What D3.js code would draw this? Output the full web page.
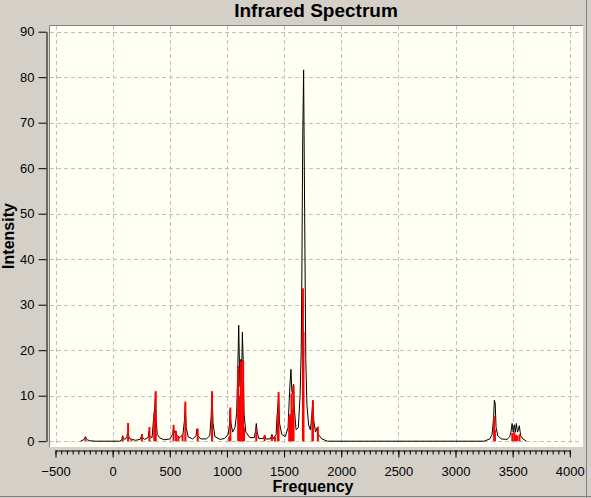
<!DOCTYPE html>
<html><head><meta charset="utf-8">
<script src="https://cdn.jsdelivr.net/npm/d3@7/dist/d3.min.js"></script>
<style>
html,body{margin:0;padding:0;background:#d4d0c8;}
svg{display:block;}
text{font-family:"Liberation Sans",Arial,sans-serif;}
</style></head>
<body>
<svg id="chart" width="591" height="498"></svg>
<script>
// ---- data ----
const title = "Infrared Spectrum";
const xLabel = "Frequency";
const yLabel = "Intensity";
const xTicks = [-500, 0, 500, 1000, 1500, 2000, 2500, 3000, 3500, 4000];
const yTicks = [0, 10, 20, 30, 40, 50, 60, 70, 80, 90];

// broadened spectrum (black line)
const curveFreq = [-281,-255,-242,-238,-232,-220,-200,-150,60,80,88,95,110,125,132,138,145,170,200,240,250,256,262,280,310,318,326,345,360,368,374,380,390,410,450,500,525,533,540,552,560,590,615,628,636,644,660,700,730,738,746,770,820,850,862,870,878,895,940,980,1010,1022,1028,1035,1050,1070,1085,1095,1103,1110,1115,1122,1128,1135,1142,1150,1165,1200,1240,1250,1257,1264,1280,1320,1330,1340,1380,1394,1405,1430,1440,1452,1460,1480,1510,1535,1545,1553,1560,1568,1575,1582,1590,1605,1625,1640,1650,1656,1663,1671,1680,1690,1700,1715,1730,1740,1752,1760,1775,1790,1800,1830,1880,3250,3300,3320,3333,3340,3347,3355,3370,3400,3450,3475,3485,3495,3505,3515,3523,3532,3542,3550,3558,3570,3590,3620];
const curveInt  = [0,0.3,0.8,1.0,0.6,0.3,0.1,0,0,0.3,1.2,0.6,0.4,1.0,2.2,1.5,0.6,0.4,0.2,0.4,1.0,1.5,0.8,0.4,0.8,2.2,1.0,0.8,5.5,7,10.6,5,1.5,0.8,0.3,0.5,1.5,2.9,1.8,2.3,1.3,0.8,1.5,4.5,7.9,3,1.0,0.5,1.2,2.7,1.2,0.5,0.5,1.2,5.5,10.6,4,1.0,0.4,0.6,1.5,3.5,6.9,4,2,3,6,16,25.5,16,12,18,13,24,18,6,2,0.8,0.8,2.2,3.9,2,0.6,0.6,1.3,0.5,0.5,1.5,0.5,1.5,5.8,10,4,1.5,1.0,3,9,13,15.8,11,10.5,12.5,7,2.5,3,10,20,38,66,81.6,50,18,8,3.5,2.5,5,9.0,4.5,2,3.0,1.5,0.5,0,0,0.5,1.5,5,9.0,8.4,3,1.2,0.5,0.4,1,2,3.9,2,3.6,2,3.9,2,2.5,3.4,1.2,0.5,0];

// computed transitions (red sticks)
const stickFreq = [-238,88,135,165,256,322,364,377,533,555,575,612,636,744,870,1020,1030,1098,1110,1122,1135,1142,1150,1257,1330,1394,1420,1445,1452,1545,1555,1565,1575,1583,1665,1670,1748,1752,1796,3338,3345,3497,3515,3530,3540,3560];
const stickInt  = [0.8,1.0,4.0,0.5,1.5,3.1,6.2,11.0,3.6,2.2,1.0,1.5,8.7,2.8,11.0,1.0,7.4,16.5,10,17.5,13,17.8,3,2.8,1.3,1.2,1.0,6,10.8,5.5,6,10.5,7,12.3,33.6,24,5.8,8.8,3.2,5.5,2.5,1.8,2.0,1.4,1.2,1.5];

// ---- drawing ----
const svg = d3.select("#chart");
const plot = {left: 49, top: 25, right: 583, bottom: 447};
const x = d3.scaleLinear().domain([-500, 4000]).range([55.5, 569.8]);
const y = d3.scaleLinear().domain([0, 90]).range([441.2, 31.7]);
const px = v => Math.round(x(v)) + 0.5;
const py = v => Math.round(y(v)) + 0.5;

// window frame
svg.append("line").attr("x1",586.5).attr("x2",586.5).attr("y1",0).attr("y2",498).attr("stroke","#808080");
svg.append("line").attr("x1",0).attr("x2",591).attr("y1",496.5).attr("y2",496.5).attr("stroke","#808080");

// plot background
svg.append("rect").attr("x",plot.left).attr("y",plot.top)
  .attr("width",plot.right-plot.left).attr("height",plot.bottom-plot.top).attr("fill","#fffff4");
svg.append("path").attr("d",`M${plot.left+0.5},${plot.bottom}V${plot.top+0.5}H${plot.right}`)
  .attr("fill","none").attr("stroke","#808080");
svg.append("path").attr("d",`M${plot.left+1},${plot.bottom-0.5}H${plot.right-0.5}V${plot.top+1}`)
  .attr("fill","none").attr("stroke","#ffffff");

// grid
const grid = svg.append("g").attr("stroke","#c0c0c0").attr("stroke-dasharray","4,3").attr("shape-rendering","crispEdges");
grid.selectAll(".vx").data(xTicks).join("line")
  .attr("x1",d=>px(d)).attr("x2",d=>px(d)).attr("y1",plot.top+1).attr("y2",plot.bottom-1);
grid.selectAll(".hy").data(yTicks).join("line")
  .attr("y1",d=>py(d)).attr("y2",d=>py(d)).attr("x1",plot.left+1).attr("x2",plot.right-1);

// curve
const pts = curveFreq.map((f,i)=>[f, curveInt[i]]);
svg.append("path").datum(pts)
  .attr("d", d3.line().x(d=>x(d[0])).y(d=>y(d[1])))
  .attr("fill","none").attr("stroke","#000").attr("stroke-width",1);

// sticks
svg.append("g").selectAll("line").data(stickFreq.map((f,i)=>[f, stickInt[i]])).join("line")
  .attr("x1",d=>x(d[0])).attr("x2",d=>x(d[0]))
  .attr("y1",y(0)).attr("y2",d=>y(d[1]))
  .attr("stroke","#ff0000").attr("stroke-width",2);

// y axis
const yAxis = svg.append("g").attr("transform","translate(46.5,0)")
  .call(d3.axisLeft(y).tickValues(yTicks).tickSize(8).tickSizeOuter(0).tickPadding(4));
yAxis.selectAll("text").attr("font-size","13px").attr("fill","#000").attr("font-family","Liberation Sans, Arial, sans-serif");
yAxis.selectAll("line,path").attr("stroke","#000");

// x axis
const minorTicks = d3.range(-500, 4001, 50);
const xMinor = svg.append("g").attr("transform","translate(0,450.5)")
  .call(d3.axisBottom(x).tickValues(minorTicks).tickSize(4).tickSizeOuter(0).tickFormat(""));
xMinor.selectAll("line,path").attr("stroke","#000");
const xAxis = svg.append("g").attr("transform","translate(0,450.5)")
  .call(d3.axisBottom(x).tickValues(xTicks).tickSize(7).tickSizeOuter(0).tickPadding(9).tickFormat(d3.format("d")));
xAxis.select("path").remove();
xAxis.selectAll("line").attr("stroke","#000");
xAxis.selectAll("text").attr("font-size","13px").attr("fill","#000").attr("font-family","Liberation Sans, Arial, sans-serif");

// titles
svg.append("text").attr("x",316).attr("y",17).attr("text-anchor","middle")
  .attr("font-size","19px").attr("font-weight","bold").text(title);
svg.append("text").attr("x",313).attr("y",492).attr("text-anchor","middle")
  .attr("font-size","16px").attr("font-weight","bold").text(xLabel);
svg.append("text").attr("transform","translate(14,236) rotate(-90)").attr("text-anchor","middle")
  .attr("font-size","16px").attr("font-weight","bold").text(yLabel);
</script>
</body></html>
